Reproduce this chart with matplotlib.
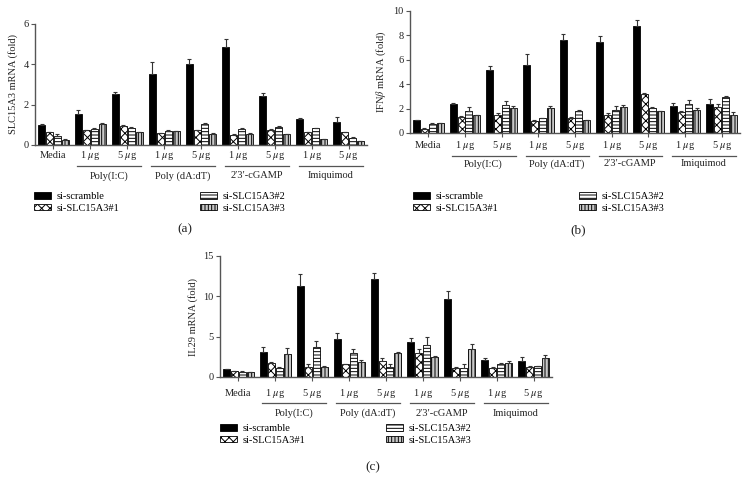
import numpy as np
import matplotlib
matplotlib.use("Agg")
import matplotlib.pyplot as plt
from matplotlib import transforms

plt.rcParams['font.family'] = ['Liberation Serif', 'DejaVu Serif']
plt.rcParams['mathtext.fontset'] = 'stix'
plt.rcParams['hatch.linewidth'] = 0.7

# conditions (x axis)
conds = ["Media", "1 $\\mu$g", "5 $\\mu$g", "1 $\\mu$g", "5 $\\mu$g",
         "1 $\\mu$g", "5 $\\mu$g", "1 $\\mu$g", "5 $\\mu$g"]
groups = ["Poly(I:C)", "Poly (dA:dT)", "2\u20323\u2032-cGAMP", "Imiquimod"]
group_start = [1, 3, 5, 7]
series = ["si-scramble", "si-SLC15A3#1", "si-SLC15A3#2", "si-SLC15A3#3"]

# panel (a) SLC15A3 mRNA, rows = series, cols = conditions
slc_vals = [
    [1.00, 1.55, 2.52, 3.50, 4.02, 4.88, 2.42, 1.28, 1.12],
    [0.62, 0.72, 0.95, 0.58, 0.73, 0.52, 0.75, 0.63, 0.63],
    [0.45, 0.80, 0.85, 0.70, 1.05, 0.80, 0.90, 0.82, 0.37],
    [0.27, 1.05, 0.62, 0.67, 0.57, 0.57, 0.55, 0.30, 0.18],
]
slc_err = [
    [0.05, 0.20, 0.10, 0.62, 0.25, 0.38, 0.15, 0.05, 0.28],
    [0.03, 0.03, 0.02, 0.03, 0.03, 0.02, 0.03, 0.03, 0.03],
    [0.10, 0.04, 0.06, 0.04, 0.04, 0.03, 0.04, 0.04, 0.02],
    [0.02, 0.05, 0.02, 0.02, 0.02, 0.02, 0.02, 0.01, 0.02],
]

# panel (b) IFNb mRNA
ifn_vals = [
    [1.05, 2.35, 5.20, 5.55, 7.65, 7.42, 8.80, 2.18, 2.35],
    [0.35, 1.30, 1.50, 1.00, 1.20, 1.50, 3.20, 1.75, 2.15],
    [0.75, 1.80, 2.30, 1.20, 1.82, 1.88, 2.08, 2.38, 2.92],
    [0.80, 1.45, 2.05, 2.08, 1.05, 2.10, 1.80, 1.85, 1.50],
]
ifn_err = [
    [0.05, 0.12, 0.30, 0.95, 0.45, 0.55, 0.45, 0.25, 0.45],
    [0.05, 0.07, 0.10, 0.05, 0.10, 0.10, 0.10, 0.07, 0.20],
    [0.05, 0.35, 0.35, 0.05, 0.05, 0.30, 0.05, 0.30, 0.08],
    [0.03, 0.05, 0.15, 0.15, 0.05, 0.20, 0.03, 0.20, 0.25],
]

# panel (c) IL29 mRNA
il_vals = [
    [1.00, 3.05, 11.30, 4.70, 12.10, 4.40, 9.70, 2.10, 1.95],
    [0.70, 1.70, 1.30, 1.55, 1.95, 2.95, 1.10, 1.15, 1.30],
    [0.65, 1.10, 3.70, 3.00, 1.25, 4.00, 1.10, 1.60, 1.35],
    [0.60, 2.85, 1.20, 1.80, 3.00, 2.50, 3.50, 1.75, 2.30],
]
il_err = [
    [0.05, 0.65, 1.45, 0.75, 0.85, 0.45, 0.90, 0.30, 0.50],
    [0.05, 0.15, 0.30, 0.05, 0.35, 0.50, 0.15, 0.05, 0.05],
    [0.05, 0.10, 0.75, 0.45, 0.35, 0.95, 0.50, 0.10, 0.05],
    [0.05, 0.70, 0.20, 0.35, 0.10, 0.10, 0.55, 0.25, 0.45],
]

W, H = 749, 492
fig = plt.figure(figsize=(W / 100, H / 100), dpi=100)

fills = ['black', 'white', 'white', '#c8c8c8']
hatches = [None, 'xxxx', '-----', '|||||']
axcol = '#555555'


def fy(p):
    return 1 - p / H


def panel(box, vals, err, ymax, ystep, ylabel, ypix, tag):
    x0, x1, ytop, ybot = box
    ax = fig.add_axes([x0 / W, fy(ybot), (x1 - x0) / W, (ybot - ytop) / H])
    x = np.arange(len(conds))
    bw = 0.19
    handles = []
    for k in range(4):
        b = ax.bar(x + (k - 1.5) * 0.215, vals[k], bw, color=fills[k],
                   edgecolor='black', linewidth=0.6, hatch=hatches[k],
                   label=series[k], zorder=2)
        ax.errorbar(x + (k - 1.5) * 0.215, vals[k], yerr=[np.zeros(9), err[k]],
                    fmt='none', ecolor='#333333', elinewidth=0.8, capsize=1.5,
                    capthick=0.8, zorder=3)
        handles.append(b)
    ax.set_xlim(-0.5, 8.5)
    ax.set_ylim(0, ymax)
    ax.set_yticks(np.arange(0, ymax + 0.01, ystep))
    ax.set_xticks(x)
    ax.set_xticklabels([])
    for s in ['top', 'right']:
        ax.spines[s].set_visible(False)
    for s in ['left', 'bottom']:
        ax.spines[s].set_color(axcol)
        ax.spines[s].set_linewidth(1.0)
    ax.tick_params(axis='both', colors=axcol, labelcolor='#222222',
                   labelsize=7.5, length=3, width=0.8, pad=1.5)
    ax.set_ylabel(ylabel, fontsize=7.5, color='#222222', labelpad=4)

    tr = transforms.blended_transform_factory(ax.transData, fig.transFigure)
    ycat, yline, ygrp, yleg, ytag = ypix
    for i, c in enumerate(conds):
        fig.text(i, fy(ycat), c, transform=tr, ha='center', va='center',
                 fontsize=7.5, color='#222222')
    for g, s in zip(groups, group_start):
        fig.add_artist(plt.Line2D([s - 0.35, s + 1.38], [fy(yline), fy(yline)],
                                  transform=tr, color=axcol, lw=0.9))
        fig.text(s + 0.5, fy(ygrp), g, transform=tr, ha='center', va='center',
                 fontsize=7.5, color='#222222')
    fig.legend(handles=handles, ncol=2, loc='upper left',
               bbox_to_anchor=(yleg[0] / W, fy(yleg[1])), frameon=False,
               fontsize=7.5, handlelength=1.6, handleheight=0.6,
               handletextpad=0.6, columnspacing=yleg[2], labelspacing=0.25,
               borderpad=0, borderaxespad=0)
    fig.text(tag[0] / W, fy(tag[1]), tag[2], ha='center', va='center',
             fontsize=9.5, color='#222222')
    return ax


panel((35, 367, 24, 145), slc_vals, slc_err, 6, 2, "SLC15A3 mRNA (fold)",
      (155, 166, 176, (34, 192, 7.7), 229), (185, 229, "(a)"))
panel((410, 740, 11, 133), ifn_vals, ifn_err, 10, 2, "IFN$\\beta$ mRNA (fold)",
      (146, 156, 164, (413, 192, 7.7), 230), (578, 230, "(b)"))
panel((220, 552, 256, 377), il_vals, il_err, 15, 5, "IL29 mRNA (fold)",
      (393, 403, 413, (220, 424, 7.7), 467), (373, 467, "(c)"))

fig.savefig("out.png", dpi=100)
